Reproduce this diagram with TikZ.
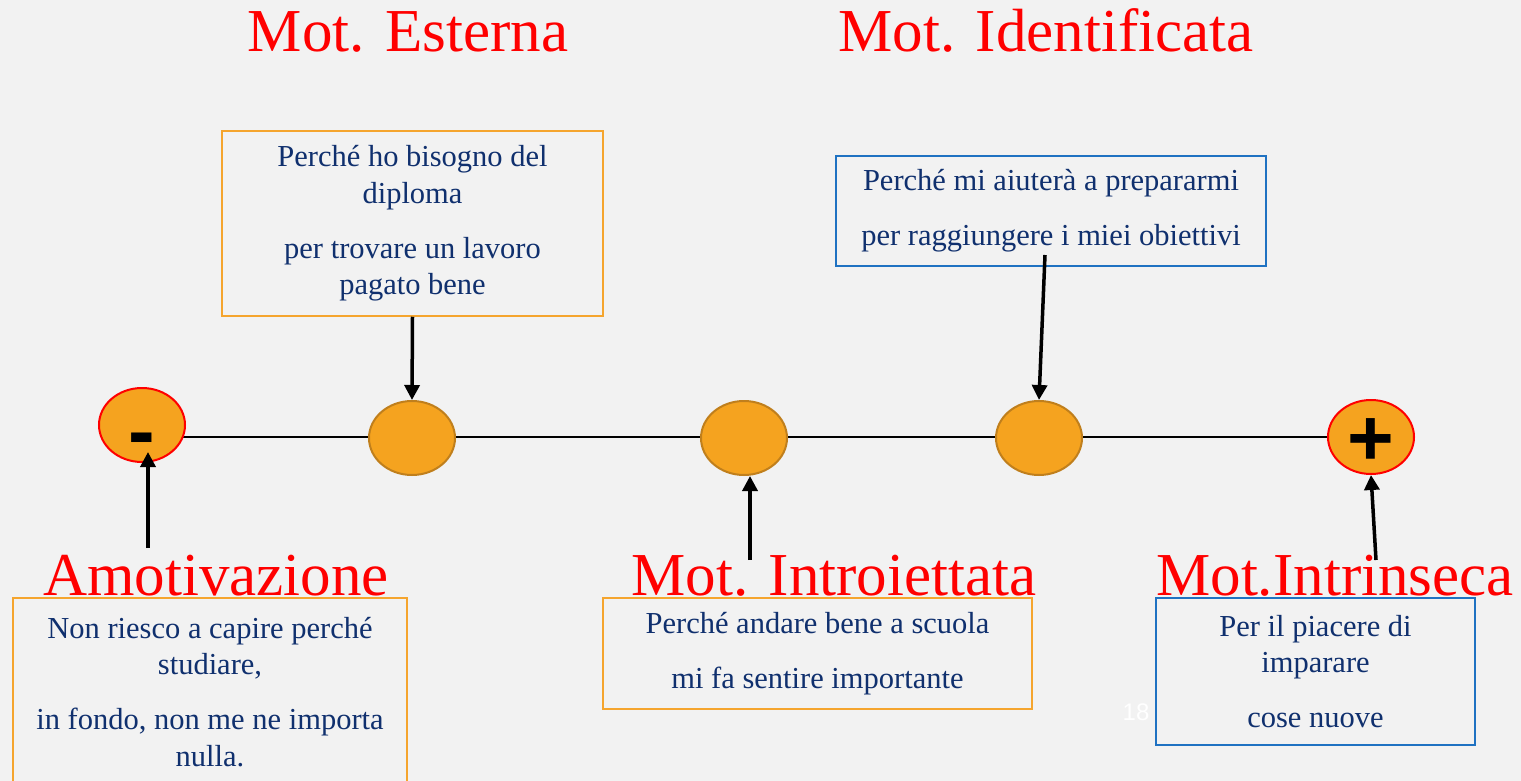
\documentclass[tikz,border=0pt]{standalone}
\usepackage{fontspec}
\setmainfont{Liberation Serif}
\newfontfamily\signfont{Liberation Sans}
\usetikzlibrary{arrows.meta}
\usetikzlibrary{shapes.geometric}

\definecolor{bggray}{HTML}{F2F2F2}
\definecolor{dotfill}{HTML}{F5A31F}
\definecolor{dotedge}{HTML}{C07F1C}
\definecolor{boxorange}{HTML}{F5A52E}
\definecolor{boxblue}{HTML}{1F72C2}
\definecolor{navy}{HTML}{10306E}

\tikzset{
 dot/.style={ellipse, fill=dotfill, draw=dotedge, line width=2pt, minimum width=86pt, minimum height=74pt, inner sep=0},
 enddot/.style={dot, draw=red, line width=2pt},
 sign/.style={font=\signfont\bfseries\fontsize{80}{80}\selectfont, anchor=base, inner sep=0},
 motlabel/.style={text=red, font=\fontsize{61}{61}\selectfont, anchor=base, inner sep=0},
 obox/.style={draw=boxorange, line width=1.5pt, align=center, text=navy, inner sep=0, font=\fontsize{30.5}{36.5}\selectfont},
 bbox/.style={obox, draw=boxblue},
 pointer/.style={black, line width=3.5pt, -{Triangle[length=15pt,width=15pt]}}
}

\begin{document}
\begin{tikzpicture}[x=1pt, y=-1pt]
\fill[bggray] (0,0) rectangle (1521,781);
\useasboundingbox (0,0) rectangle (1521,781);
\coordinate (axL) at (142,437);
\coordinate (axR) at (1370,437);
\draw[black, line width=2.5pt] (axL) -- (axR);

\node[enddot] (em) at (142,425) {};
\node[dot] (e2) at (412,438) {};
\node[dot] (e3) at (744,438) {};
\node[dot] (e4) at (1039,438) {};
\node[enddot] (ep) at (1371,437) {};
\node[sign] (minus) at (142,458) {-};
\node[sign] (plus) at (1371,465) {+};

\node[obox, minimum width=381pt, minimum height=185pt] (esterna) at (412.5,223.5)
  {Perché ho bisogno del\\diploma\\[18.5pt]per trovare un lavoro\\pagato bene};
\node[bbox, minimum width=430pt, minimum height=110pt] (identif) at (1051,211)
  {Perché mi aiuterà a prepararmi\\[18.5pt]per raggiungere i miei obiettivi};
\node[obox, minimum width=394pt, minimum height=188pt] (amot) at (210,692)
  {Non riesco a capire perché\\studiare,\\[18.5pt]in fondo, non me ne importa\\nulla.};
\node[obox, minimum width=429pt, minimum height=111pt] (introi) at (817.5,653.5)
  {Perché andare bene a scuola\\[18.5pt]mi fa sentire importante};
\node[bbox, minimum width=319pt, minimum height=147pt] (intrin) at (1315.5,671.5)
  {Per il piacere di\\imparare\\[18.5pt]cose nuove};

\node[motlabel] (tEst) at (408,52) {Mot. Esterna};
\node[motlabel] (tIde) at (1046,52) {Mot. Identificata};
\node[motlabel] (tAmo) at (216,595) {Amotivazione};
\node[motlabel] (tInt) at (834,595) {Mot. Introiettata};
\node[motlabel] (tIntr) at (1335,595) {Mot.Intrinseca};
\node[white, font=\signfont\fontsize{24}{24}\selectfont, anchor=base, inner sep=0] (pagenum) at (1136,720) {18};

\coordinate (amTail) at (148,548);
\coordinate (amTip) at (148,452);
\coordinate (inTail) at (750,560);
\coordinate (inTip) at (750,476);
\coordinate (idTail) at (1045,255);
\coordinate (irTail) at (1376,560);
\draw[pointer] (amTail) -- (amTip);
\draw[pointer] (esterna.south) -- (e2.north);
\draw[pointer] (inTail) -- (inTip);
\draw[pointer] (idTail) -- (e4.north);
\draw[pointer] (irTail) -- (ep.south);
\end{tikzpicture}
\end{document}
